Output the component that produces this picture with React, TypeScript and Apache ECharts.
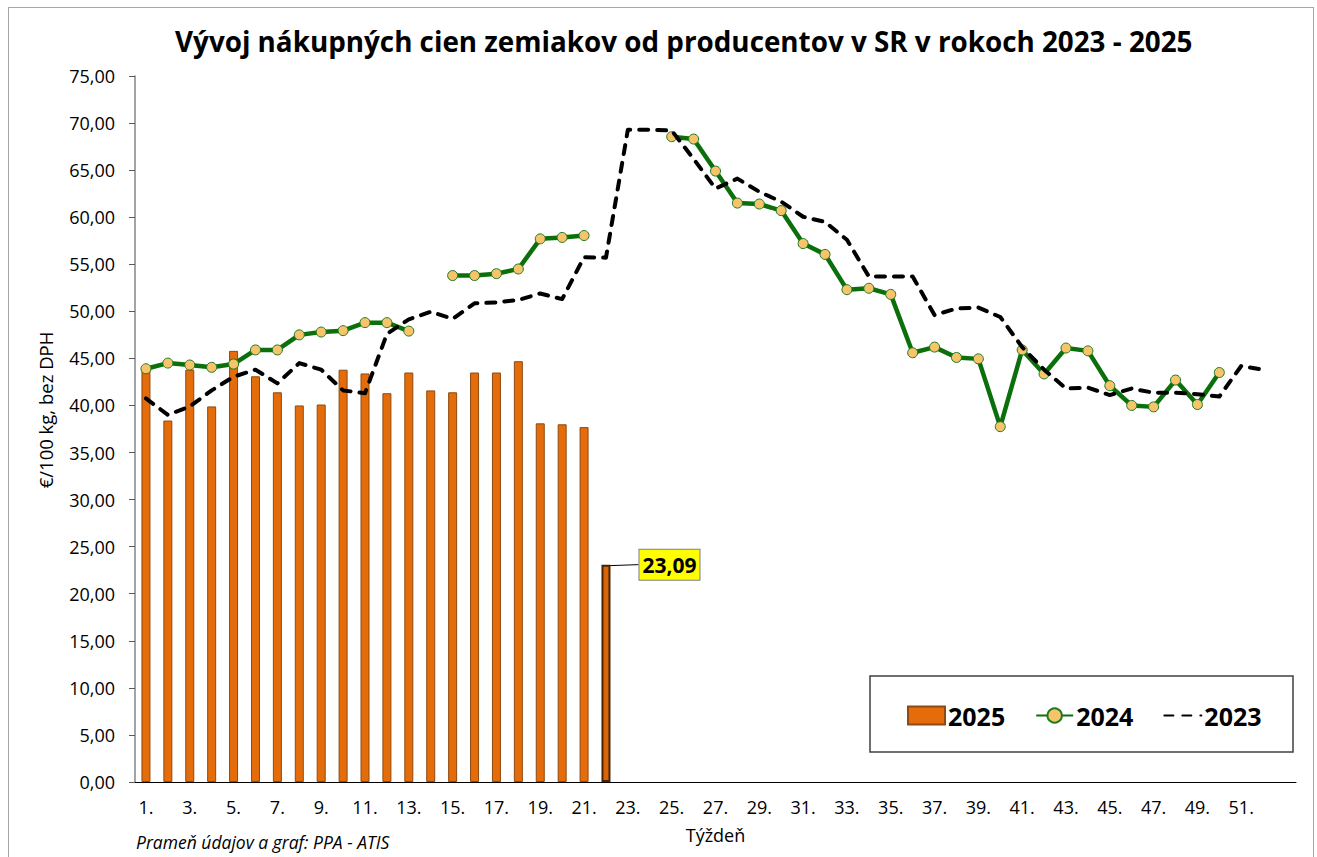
import React, { useEffect, useRef } from "react";
import * as echarts from "echarts";

const titleText = "Vývoj nákupných cien zemiakov od producentov v SR v rokoch 2023 - 2025";
const yAxisTitle = "€/100 kg, bez DPH";
const xAxisTitle = "Týždeň";
const sourceNote = "Prameň údajov a graf: PPA - ATIS";

// week categories 1.–52. plus an empty 53rd slot
const weeks: string[] = [...Array.from({ length: 52 }, (_, i) => `${i + 1}.`), ""];

const seriesNames = ["2025", "2024", "2023"];

const values2025: number[] = [
  43.7, 38.4, 43.8, 39.9, 45.8, 43.1, 41.4, 40.0, 40.1, 43.8, 43.4,
  41.3, 43.5, 41.6, 41.4, 43.5, 43.5, 44.7, 38.1, 38.0, 37.7, 23.09,
];

const values2024: (number | null)[] = [
  43.9, 44.5, 44.3, 44.05, 44.4, 45.9, 45.9, 47.5, 47.8, 47.95, 48.8, 48.8, 47.9,
  null,
  53.8, 53.8, 54.0, 54.5, 57.7, 57.85, 58.05,
  null, null, null,
  68.55, 68.3, 64.9, 61.5, 61.4, 60.7, 57.2, 56.05, 52.3, 52.45, 51.8, 45.6, 46.2,
  45.1, 44.95, 37.75, 45.9, 43.35, 46.1, 45.8, 42.1, 40.0, 39.85, 42.7, 40.1, 43.5,
  null, null, null,
];

const values2023: (number | null)[] = [
  40.75, 39.0, 39.9, 41.6, 43.05, 43.8, 42.35, 44.5, 43.8, 41.6, 41.3, 47.6, 49.15,
  49.95, 49.2, 50.85, 50.95, 51.2, 51.9, 51.3, 55.75, 55.7, 69.3, 69.3, 69.2, 66.2,
  63.05, 64.1, 62.7, 61.65, 60.05, 59.5, 57.6, 53.7, 53.7, 53.7, 49.6, 50.3, 50.4,
  49.4, 46.2, 43.8, 41.8, 41.9, 41.1, 41.8, 41.35, 41.35, 41.2, 40.95, 44.2, 43.8,
  null,
];

const highlightIndex = 21;

const FONT = "'Open Sans', 'Noto Sans', sans-serif";

export default function App() {
  const ref = useRef<HTMLDivElement>(null);

  useEffect(() => {
    if (!ref.current) return;
    const chart = echarts.init(ref.current, null, { renderer: "svg" });

    const barData = values2025.map((v, i) =>
      i === highlightIndex
        ? {
            value: v,
            itemStyle: { color: "#D9650A", borderColor: "#4A2200", borderWidth: 2 },
            label: {
              show: true,
              formatter: (p: any) => Number(p.value).toFixed(2).replace(".", ","),
              fontFamily: FONT,
              fontWeight: "bold",
              fontSize: 21,
              color: "#000",
              backgroundColor: "#FFFF00",
              borderColor: "#7F7F7F",
              borderWidth: 1,
              padding: [5, 3, 4, 3],
            },
          }
        : v
    );

    chart.setOption({
      animation: false,
      backgroundColor: "#ffffff",
      textStyle: { fontFamily: FONT },
      title: {
        text: titleText,
        left: 166,
        top: 19,
        padding: 0,
        textStyle: { fontFamily: FONT, fontSize: 27.8, fontWeight: "bold", color: "#000" },
      },
      grid: { left: 126, top: 68, width: 1161, height: 706, containLabel: false },
      legend: {
        left: 893,
        top: 690,
        itemWidth: 37,
        itemHeight: 18,
        itemGap: 30,
        data: [
          { name: "2025", icon: "rect" },
          { name: "2024" },
          { name: "2023", itemStyle: { opacity: 0 } },
        ],
        textStyle: { fontFamily: FONT, fontSize: 25, fontWeight: "bold", color: "#000", padding: [0, 0, 0, -2] },
      },
      xAxis: {
        type: "category",
        data: weeks,
        boundaryGap: true,
        name: xAxisTitle,
        nameLocation: "middle",
        nameGap: 44,
        nameTextStyle: { fontFamily: FONT, fontSize: 18, color: "#000" },
        axisLine: { lineStyle: { color: "#000", width: 1 } },
        axisTick: { show: false },
        axisLabel: { interval: 1, margin: 16, fontFamily: FONT, fontSize: 18, color: "#000" },
        splitLine: { show: false },
      },
      yAxis: {
        type: "value",
        min: 0,
        max: 75,
        interval: 5,
        axisLine: { show: true, lineStyle: { color: "#868686", width: 1.5 } },
        axisTick: { show: true, inside: false, length: 6, lineStyle: { color: "#595959" } },
        axisLabel: {
          margin: 20,
          fontFamily: FONT,
          fontSize: 18,
          color: "#000",
          formatter: (v: number) => v.toFixed(2).replace(".", ","),
        },
        splitLine: { show: false },
      },
      graphic: [
        {
          type: "text",
          x: 36,
          y: 402,
          rotation: Math.PI / 2,
          style: {
            text: yAxisTitle,
            fontFamily: FONT,
            fontSize: 18.5,
            fill: "#000",
            align: "center",
            verticalAlign: "middle",
          },
        },
        {
          type: "text",
          x: 127,
          y: 834,
          style: {
            text: sourceNote,
            fontFamily: FONT,
            fontSize: 17.5,
            fontStyle: "italic",
            fill: "#000",
            align: "left",
            verticalAlign: "middle",
          },
        },
        {
          type: "rect",
          shape: { x: 861, y: 668, width: 423, height: 76 },
          style: { fill: "none", stroke: "#404040", lineWidth: 1.5 },
          z: 0,
        },
      ],
      series: [
        {
          name: seriesNames[0],
          type: "bar",
          data: barData,
          barWidth: 9,
          itemStyle: { color: "#E46C0A", borderColor: "#8E4A10", borderWidth: 1 },
          labelLayout: (p: any) => {
            if (p.dataIndex !== highlightIndex) return {};
            return {
              x: p.rect.x + p.rect.width + 29,
              y: p.rect.y,
              align: "left",
              verticalAlign: "middle",
            };
          },
          labelLine: { show: true, lineStyle: { color: "#000", width: 1 } },
          z: 2,
        },
        {
          name: seriesNames[1],
          type: "line",
          data: values2024,
          connectNulls: false,
          symbol: "circle",
          symbolSize: 10,
          showAllSymbol: true,
          lineStyle: { color: "#0B700B", width: 4.5 },
          itemStyle: { color: "#F7C46C", borderColor: "#1F7A1F", borderWidth: 1 },
          z: 3,
        },
        {
          name: seriesNames[2],
          type: "line",
          data: values2023,
          symbol: "none",
          connectNulls: false,
          lineStyle: { color: "#000", width: 4, type: [9, 9], cap: "round", join: "round" },
          itemStyle: { color: "#000" },
          z: 4,
        },
      ],
    });

    return () => chart.dispose();
  }, []);

  return (
    <div
      style={{
        position: "fixed",
        left: 8,
        top: 7,
        width: 1306,
        height: 870,
        border: "1px solid #A6A6A6",
        boxSizing: "border-box",
        background: "#fff",
      }}
    >
      <div ref={ref} style={{ width: 1304, height: 868 }} />
    </div>
  );
}
